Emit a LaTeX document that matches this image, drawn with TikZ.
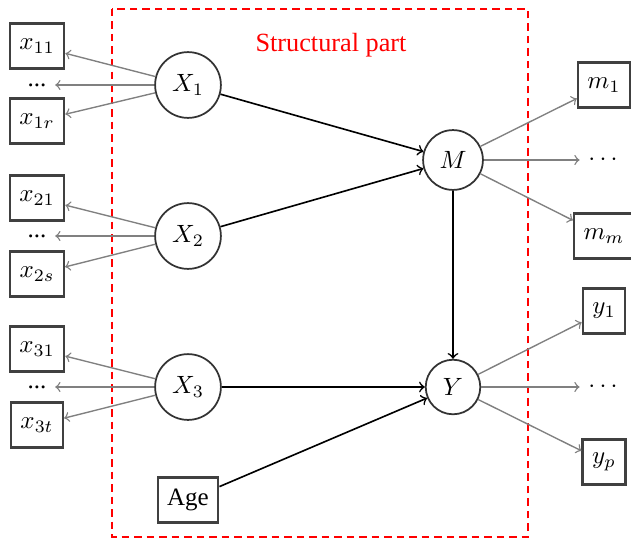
\documentclass[tikz,border=0pt]{standalone}
\usepackage{fontspec}
\setmainfont{Liberation Serif}
\begin{document}
\begin{tikzpicture}[x=0.4pt,y=-0.4pt,
  latent/.style={circle,draw=black!80,line width=0.7pt,inner sep=4pt,fill=white},
  obs/.style={rectangle,draw=black!75,line width=0.9pt,inner sep=3.8pt,minimum height=18pt,fill=white},
  dotsnode/.style={inner sep=3.33pt},
  meas/.style={->,gray,line width=0.55pt},
  path/.style={->,black,line width=0.65pt},
  region/.style={draw=red,line width=0.8pt,dash pattern=on 3pt off 2pt}]
\useasboundingbox (0,0) rectangle (631,539);

% structural part frame
\draw[region] (112,9) rectangle (528,537);
\node[red,font=\fontsize{10.5}{12}\selectfont] (title) at (331,45) {Structural part};

% latent variables
\node[latent] (X1) at (188,85) {$X_1$};
\node[latent] (X2) at (188,236) {$X_2$};
\node[latent] (X3) at (188,387) {$X_3$};
\node[latent] (M) at (453,160) {$M$};
\node[latent] (Y) at (453,387) {$Y$};
\node[obs] (age) at (188,500) {Age};

% indicators of X1, X2, X3
\node[obs] (x11) at (37,46) {$x_{11}$};
\node[dotsnode] (d1) at (37,85) {...};
\node[obs] (x1r) at (37,121) {$x_{1r}$};
\node[obs] (x21) at (37,198) {$x_{21}$};
\node[dotsnode] (d2) at (37,236) {...};
\node[obs] (x2s) at (37,274) {$x_{2s}$};
\node[obs] (x31) at (37,349) {$x_{31}$};
\node[dotsnode] (d3) at (37,387) {...};
\node[obs] (x3t) at (37,425) {$x_{3t}$};

% indicators of M and Y
\node[obs] (m1) at (604,85) {$m_1$};
\node[dotsnode] (dm) at (603,160) {$\cdots$};
\node[obs] (mm) at (604,236) {$m_m$};
\node[obs] (y1) at (604,311) {$y_1$};
\node[dotsnode] (dy) at (603,387) {$\cdots$};
\node[obs] (yp) at (604,462) {$y_p$};

% measurement arrows
\foreach \s/\t in {X1/x11,X1/d1,X1/x1r,X2/x21,X2/d2,X2/x2s,X3/x31,X3/d3,X3/x3t,
                   M/m1,M/dm,M/mm,Y/y1,Y/dy,Y/yp}
  \draw[meas] (\s) -- (\t);

% structural arrows
\draw[path] (X1) -- (M);
\draw[path] (X2) -- (M);
\draw[path] (M) -- (Y);
\draw[path] (X3) -- (Y);
\draw[path] (age) -- (Y);
\end{tikzpicture}
\end{document}
